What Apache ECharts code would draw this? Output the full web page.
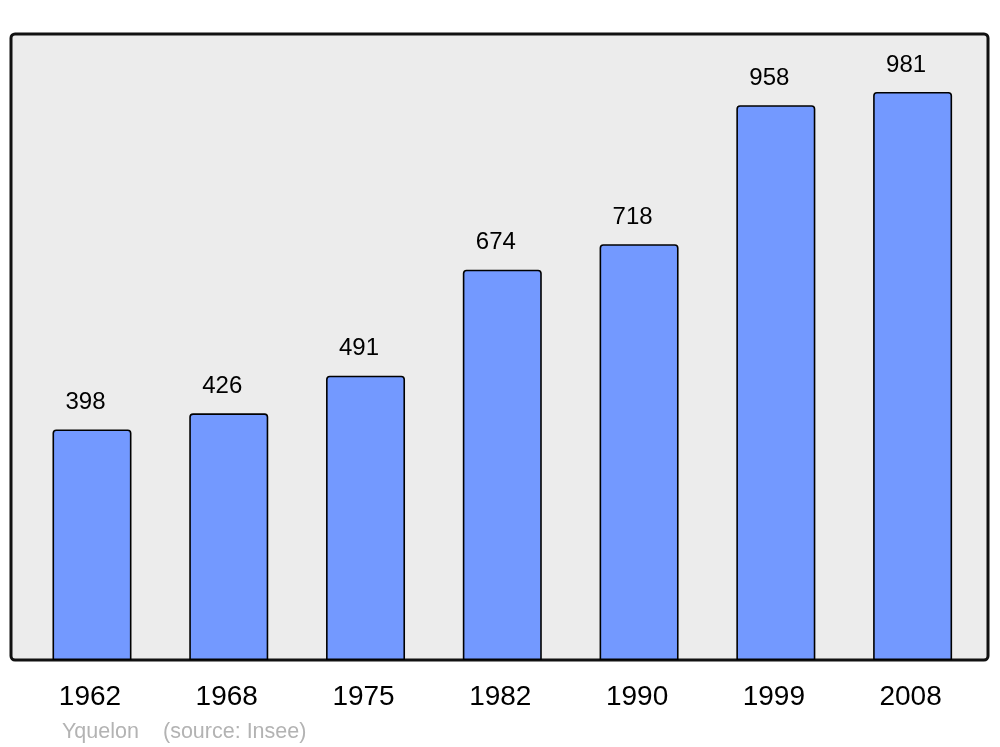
<!DOCTYPE html>
<html>
<head>
<meta charset="utf-8">
<script src="https://cdn.jsdelivr.net/npm/echarts@6/dist/echarts.min.js"></script>
<style>html,body{margin:0;padding:0;background:#fff}#c{width:1000px;height:747px}</style>
</head>
<body>
<div id="c"></div>
<script>
var years = ['1962', '1968', '1975', '1982', '1990', '1999', '2008'];
var population = [398, 426, 491, 674, 718, 958, 981];
var placeName = 'Yquelon';
var sourceText = '(source: Insee)';

var chart = echarts.init(document.getElementById('c'), null, {renderer: 'canvas'});
var font = '"Liberation Sans", Arial, sans-serif';
chart.setOption({
  animation: false,
  backgroundColor: '#ffffff',
  graphic: [
    {type: 'rect', z: 0, shape: {x: 11, y: 34, width: 977, height: 626, r: 4},
     style: {fill: '#ececec', stroke: '#111111', lineWidth: 3}},
    {type: 'text', left: 62, top: 721, z: 5,
     style: {text: placeName, fill: '#b3b3b3', font: '21.5px ' + font}},
    {type: 'text', left: 163, top: 721, z: 5,
     style: {text: sourceText, fill: '#b3b3b3', font: '21.5px ' + font}}
  ],
  grid: {left: 23.6, right: 19, top: 34, bottom: 87, containLabel: false},
  xAxis: {
    type: 'category', data: years,
    axisLine: {show: false}, axisTick: {show: false},
    axisLabel: {color: '#000', fontSize: 28, fontFamily: font, margin: 23, padding: [0, 4, 0, 0]}
  },
  yAxis: {
    type: 'value', min: 0, max: 1081,
    axisLine: {show: false}, axisTick: {show: false}, axisLabel: {show: false}, splitLine: {show: false}
  },
  series: [{
    type: 'bar', data: population, barWidth: 79, z: 3,
    itemStyle: {color: '#7399ff', borderColor: '#000', borderWidth: 1.6, borderRadius: [3, 3, 0, 0]},
    label: {show: true, position: 'top', distance: 15, offset: [-6.5, 0], color: '#000', fontSize: 24, fontFamily: font}
  }]
});
</script>
</body>
</html>
